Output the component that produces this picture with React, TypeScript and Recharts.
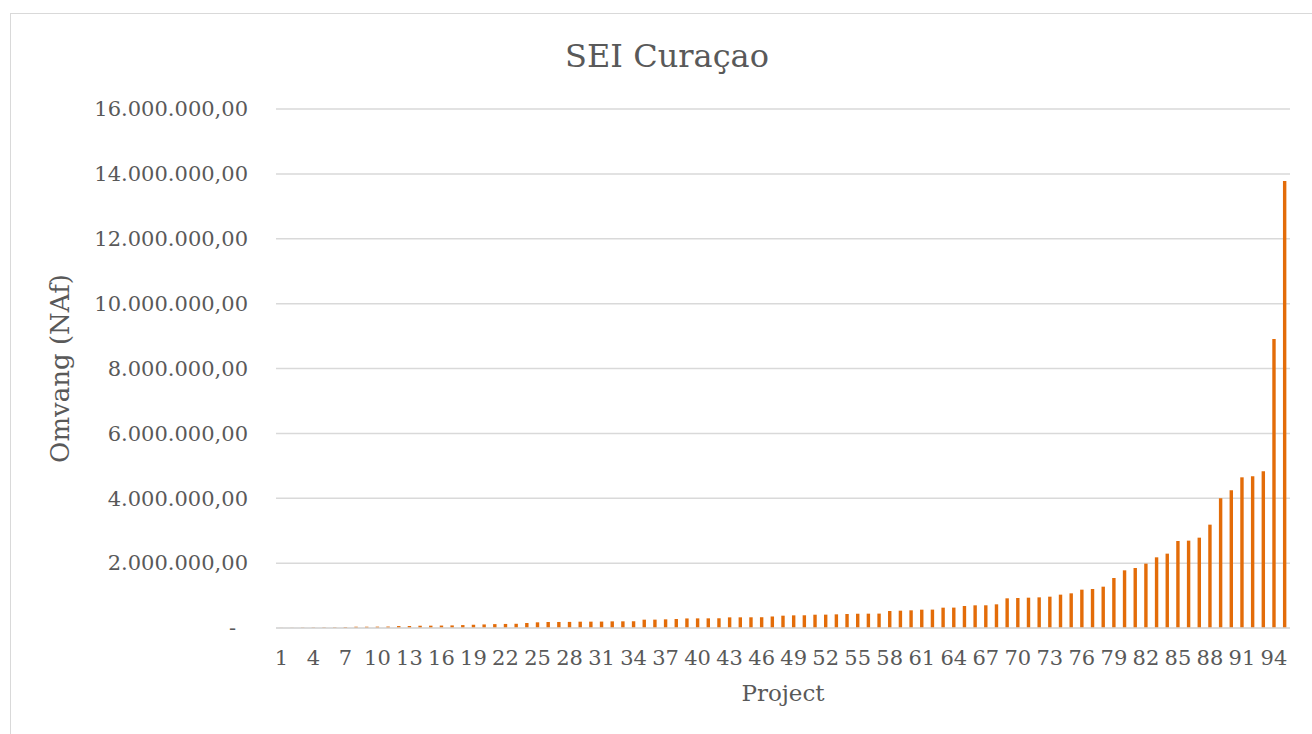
import React from 'react';
import { BarChart, Bar, XAxis, YAxis, CartesianGrid, Label } from 'recharts';

const projectValues: number[] = [
  4000, 6000, 12000, 15000, 18000, 20000, 30000, 40000, 40000, 42000,
  45000, 60000, 62000, 70000, 72000, 75000, 80000, 90000, 100000, 110000,
  120000, 125000, 130000, 154000, 175000, 185000, 186000, 188000, 195000, 196000,
  198000, 205000, 206000, 208000, 257000, 258000, 267000, 277000, 295000, 297000,
  298000, 300000, 328000, 329000, 330000, 332000, 355000, 380000, 390000, 392000,
  410000, 412000, 421000, 432000, 440000, 442000, 444000, 524000, 534000, 545000,
  565000, 567000, 627000, 629000, 678000, 699000, 700000, 730000, 915000, 925000,
  935000, 945000, 966000, 1028000, 1069000, 1182000, 1202000, 1274000, 1542000, 1778000,
  1850000, 1984000, 2179000, 2292000, 2682000, 2693000, 2785000, 3186000, 3998000, 4245000,
  4645000, 4676000, 4830000, 8910000, 13780000,
];

const projectNames: string[] = projectValues.map((_, i) => String(i + 1));

const yTicks: number[] = [0, 2000000, 4000000, 6000000, 8000000, 10000000, 12000000, 14000000, 16000000];

const data = projectNames.map((name, i) => ({ name, value: projectValues[i] }));

const FONT = '"DejaVu Serif", serif';
const TEXT = '#595959';

const fmt = (v: number): string => {
  if (v === 0) return '-';
  const s = Math.round(v).toString().replace(/\B(?=(\d{3})+(?!\d))/g, '.');
  return s + ',00';
};

const YTick = (props: any) => {
  const { x, y, payload } = props;
  const isZero = payload.value === 0;
  return (
    <text
      x={isZero ? x - 12 : x}
      y={y}
      dy="0.35em"
      textAnchor="end"
      fill={TEXT}
      fontFamily={FONT}
      fontSize={21}
    >
      {fmt(payload.value)}
    </text>
  );
};

export default function App() {
  return (
    <div style={{ position: 'absolute', left: 0, top: 0, width: 1312, height: 734, background: '#fff' }}>
      <div
        style={{
          position: 'absolute',
          left: 10,
          top: 13,
          width: 1310,
          height: 740,
          border: '1px solid #d9d9d9',
          boxSizing: 'border-box',
        }}
      />
      <div
        style={{
          position: 'absolute',
          left: 0,
          top: 36,
          width: 1334,
          textAlign: 'center',
          fontFamily: FONT,
          fontSize: 32,
          color: TEXT,
          lineHeight: '40px',
        }}
      >
        SEI Curaçao
      </div>
      <div style={{ position: 'absolute', left: 0, top: 0 }}>
        <BarChart
          width={1312}
          height={734}
          data={data}
          margin={{ top: 109, right: 22, bottom: 76, left: 0 }}
          barCategoryGap="66%"
        >
          <CartesianGrid vertical={false} stroke="#d9d9d9" strokeWidth={1.5} />
          <XAxis
            dataKey="name"
            interval={2}
            tickLine={false}
            axisLine={{ stroke: '#d9d9d9', strokeWidth: 1.5 }}
            tick={{ fill: TEXT, fontFamily: FONT, fontSize: 21 }}
            tickMargin={16}
            height={30}
          >
            <Label
              value="Project"
              position="bottom"
              offset={27}
              style={{ fill: TEXT, fontFamily: FONT, fontSize: 23 }}
            />
          </XAxis>
          <YAxis
            width={276}
            domain={[0, 16000000]}
            ticks={yTicks}
            interval={0}
            axisLine={false}
            tickLine={false}
            tickMargin={22}
            tick={<YTick />}
          >
            <Label
              value="Omvang (NAf)"
              angle={-90}
              position="insideLeft"
              offset={60}
              style={{ fill: TEXT, fontFamily: FONT, fontSize: 26, textAnchor: 'middle' }}
            />
          </YAxis>
          <Bar dataKey="value" fill="#E36C09" isAnimationActive={false} />
        </BarChart>
      </div>
    </div>
  );
}
